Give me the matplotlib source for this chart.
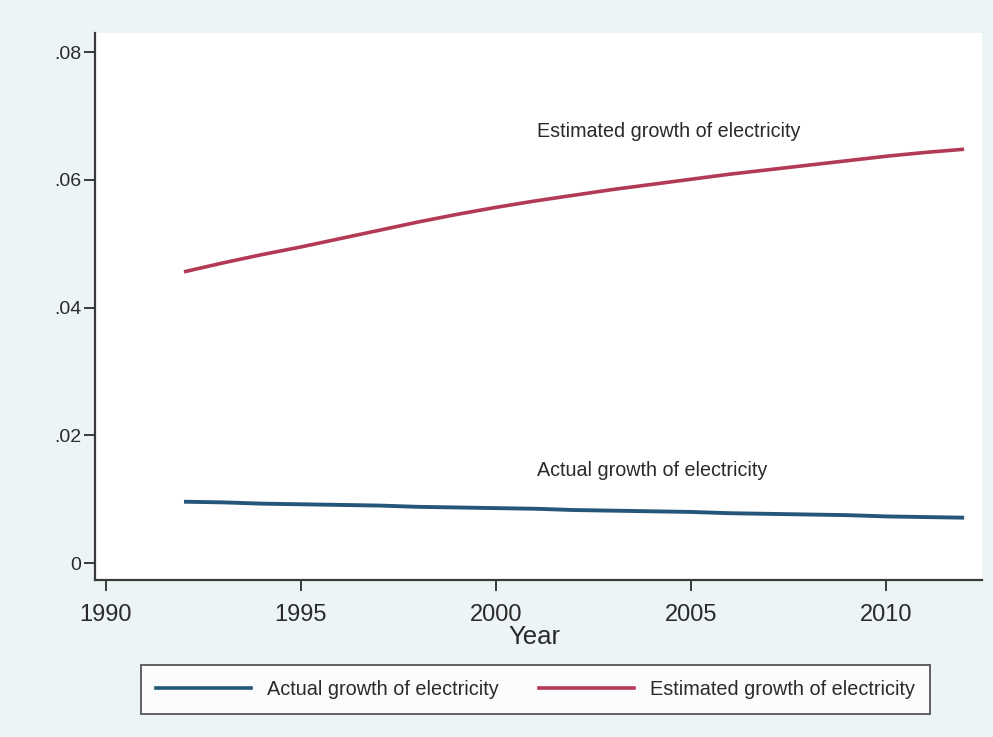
import matplotlib
matplotlib.use("Agg")
import matplotlib.pyplot as plt
from matplotlib.lines import Line2D

plt.rcParams["font.family"] = ["Liberation Sans", "DejaVu Sans"]

years = list(range(1992, 2013))
actual_growth = [0.0096, 0.0095, 0.0093, 0.0092, 0.0091, 0.0090, 0.0088,
                 0.0087, 0.0086, 0.0085, 0.0083, 0.0082, 0.0081, 0.0080,
                 0.0078, 0.0077, 0.0076, 0.0075, 0.0073, 0.0072, 0.0071]
estimated_growth = [0.0456, 0.0470, 0.0483, 0.0495, 0.0508, 0.0521, 0.0534,
                    0.0546, 0.0557, 0.0567, 0.0576, 0.0585, 0.0593, 0.0601,
                    0.0609, 0.0616, 0.0623, 0.0630, 0.0637, 0.0643, 0.0648]

x_ticks = [1990, 1995, 2000, 2005, 2010]
y_ticks = [0, 0.02, 0.04, 0.06, 0.08]
y_tick_labels = ["0", ".02", ".04", ".06", ".08"]

label_actual = "Actual growth of electricity"
label_estimated = "Estimated growth of electricity"

BLUE = "#24567a"
RED = "#b23a55"
INK = "#2a2a2a"
BG = "#edf4f6"

fig = plt.figure(figsize=(9.93, 7.37), dpi=100, facecolor=BG)
ax = fig.add_axes([0.0957, 0.2130, 0.8933, 0.7422])
ax.set_facecolor("white")

ax.plot(years, actual_growth, color=BLUE, lw=2.8, solid_capstyle="butt")
ax.plot(years, estimated_growth, color=RED, lw=2.6, solid_capstyle="butt")

ax.text(2001.05, 0.0676, label_estimated, fontsize=14.2, color=INK,
        va="center", ha="left")
ax.text(2001.05, 0.01456, label_actual, fontsize=14.2, color=INK,
        va="center", ha="left")

ax.set_xlim(1989.72, 2012.46)
ax.set_ylim(-0.00266, 0.083)
ax.set_xticks(x_ticks)
ax.set_yticks(y_ticks)
ax.set_yticklabels(y_tick_labels)

for side in ("top", "right"):
    ax.spines[side].set_visible(False)
for side in ("left", "bottom"):
    ax.spines[side].set_color("#3a3a3a")
    ax.spines[side].set_linewidth(1.6)

ax.tick_params(axis="x", length=8, width=1.4, color="#3a3a3a",
               labelsize=17, labelcolor=INK, pad=9)
ax.tick_params(axis="y", length=8, width=1.4, color="#3a3a3a",
               labelsize=14, labelcolor=INK, pad=2)

ax.set_xlabel("Year", fontsize=18.5, color=INK, labelpad=-2)
ax.xaxis.set_label_coords(0.495, -0.082)

handles = [Line2D([], [], color=BLUE, lw=2.6),
           Line2D([], [], color=RED, lw=2.6)]
leg = fig.legend(handles, [label_actual, label_estimated], ncol=2,
                 loc="center", bbox_to_anchor=(0.5393, 0.0645),
                 fontsize=14.3, frameon=True, fancybox=False,
                 handlelength=4.8, handletextpad=0.8, columnspacing=2.0,
                 borderpad=0.75)
frame = leg.get_frame()
frame.set_edgecolor("#3a3a3a")
frame.set_linewidth(1.4)
frame.set_facecolor("white")
for t in leg.get_texts():
    t.set_color(INK)

fig.savefig("out.png", dpi=100, facecolor=BG)
